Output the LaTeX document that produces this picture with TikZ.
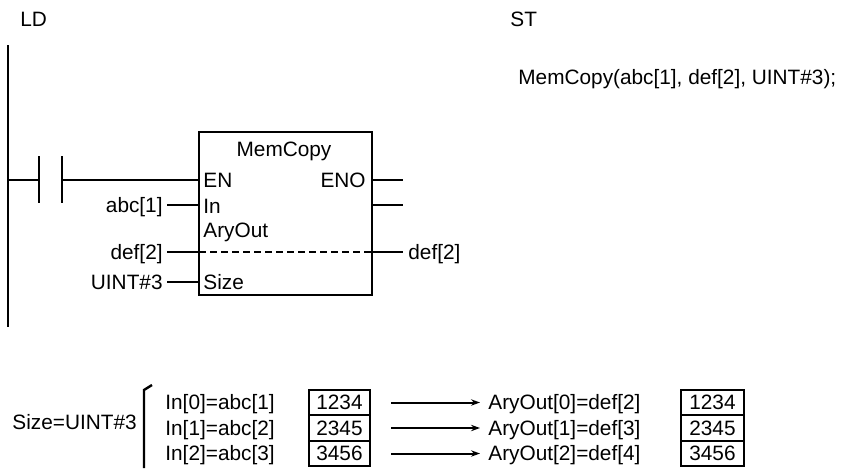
\documentclass[tikz,border=0pt]{standalone}
\usepackage{fontspec}
\setmainfont{Liberation Sans}
\usetikzlibrary{arrows.meta,positioning}

\begin{document}
\begin{tikzpicture}[x=.5pt,y=-.5pt,
  txt/.style={font=\fontsize{10.4}{12}\selectfont,inner sep=0pt},
  wire/.style={line width=1pt},
  cell/.style={draw,line width=1pt,minimum width=30.5pt,minimum height=12.75pt,
    inner sep=0pt,font=\fontsize{10.4}{12}\selectfont}]
  \useasboundingbox (0,0) rectangle (843,468);
  \node[txt,anchor=base west] (ld) at (20,26) {LD};
  \node[txt,anchor=base west] (st) at (510,26) {ST};
  \node[txt,anchor=base west] (stcode) at (518,84) {MemCopy(abc[1], def[2], UINT\#3);};
  % Rail, contact and the function block.
  \coordinate (railtop) at (8,45);
  \coordinate (railbot) at (8,327);
  \draw[line width=1.2pt] (railtop) -- (railbot);
  \coordinate (ca) at (39,180);
  \coordinate (cb) at (62,180);
  \draw[wire] (39,156) -- (39,203);
  \draw[wire] (62,156) -- (62,203);
  \node[draw,line width=1pt,minimum width=86.5pt,minimum height=81.5pt,inner sep=0pt]
    (mc) at (285.5,213.5) {};
  \node[txt,anchor=base] (mctitle) at (284,156) {MemCopy};
  \node[txt,anchor=base west] (en) at (203,187) {EN};
  \node[txt,anchor=base east] (eno) at (366,187) {ENO};
  \node[txt,anchor=base west] (in) at (203,213) {In};
  \node[txt,anchor=base west] (aryout) at (203,237) {AryOut};
  \node[txt,anchor=base west] (size) at (203,289) {Size};
  \node[txt,anchor=base east] (abc) at (163,212) {abc[1]};
  \node[txt,anchor=base east] (defin) at (163,259) {def[2]};
  \node[txt,anchor=base east] (uint) at (163,289) {UINT\#3};
  \node[txt,anchor=base west] (defout) at (408,259) {def[2]};
  \coordinate (pinin) at (199,205);
  \coordinate (pinary) at (199,252);
  \coordinate (pinsize) at (199,282);
  \coordinate (enoend) at (403,180);
  \coordinate (outend) at (403,205);
  \draw[wire] (railtop |- ca) -- (ca);
  \draw[wire] (cb) -- (mc.west |- cb);
  \draw[wire] ([xshift=2pt]abc.east |- pinin) -- (pinin);
  \draw[wire] ([xshift=2pt]defin.east |- pinary) -- (pinary);
  \draw[wire] ([xshift=2pt]uint.east |- pinsize) -- (pinsize);
  \draw[wire,dash pattern=on 3.5pt off 2pt] (pinary) -- (mc.east |- pinary);
  \draw[wire] (mc.east |- pinary) -- ([xshift=-2.5pt]defout.west |- pinary);
  \draw[wire] (mc.east |- enoend) -- (enoend);
  \draw[wire] (mc.east |- outend) -- (outend);
  % Copy example below.
  \node[txt,anchor=base west] (sizeeq) at (12,429) {Size=UINT\#3};
  \draw[line width=1.2pt] (152,385) -- (144,390) -- (144,468);
  \foreach \i/\a/\b/\v in {0/1/2/1234,1/2/3/2345,2/3/4/3456}{
    \node[txt,anchor=base west] (in\i) at (165,409.5+25.5*\i) {In[\i]=abc[\a]};
    \node[cell] (src\i) at (339.5,402.5+25.5*\i) {\v};
    \node[txt,anchor=base west] (out\i) at (488,409.5+25.5*\i) {AryOut[\i]=def[\b]};
    \node[cell,minimum width=31.5pt] (dst\i) at (712.5,402.5+25.5*\i) {\v};
    \draw[wire,-{Stealth[length=4.5pt,width=3.2pt]},shorten <=10pt,shorten >=4pt]
      (src\i.east) -- (out\i.west |- src\i);
  }
\end{tikzpicture}
\end{document}
